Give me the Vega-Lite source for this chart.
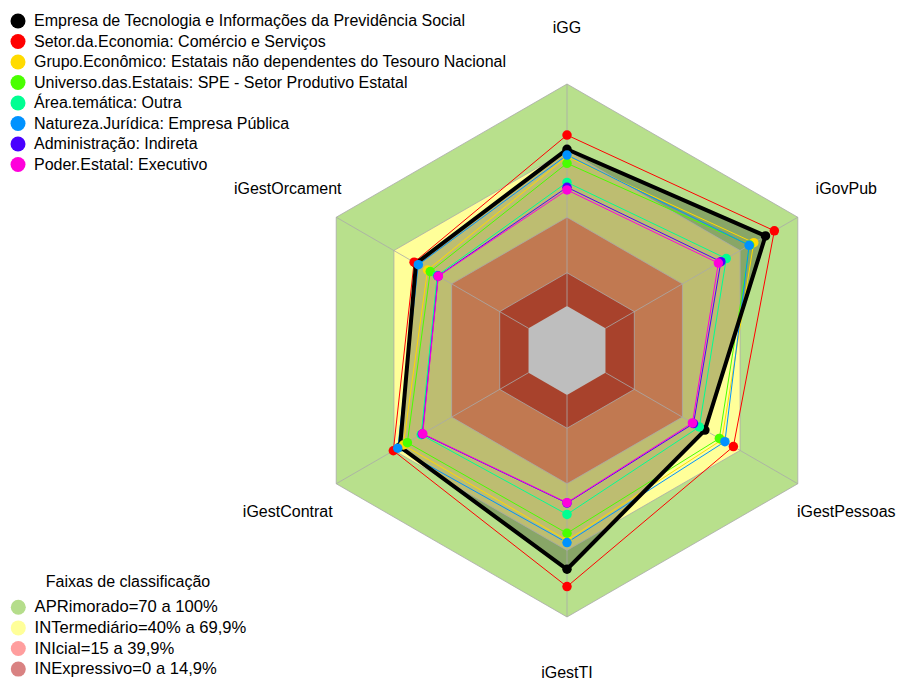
{
  "$schema": "https://vega.github.io/schema/vega-lite/v6.json",
  "width": 900,
  "height": 680,
  "autosize": {"type": "none"},
  "padding": 0,
  "background": "white",
  "config": {"view": {"stroke": null}, "font": "Liberation Sans"},
  "datasets": {
    "series": [
      {"serie": "Empresa de Tecnologia e Informações da Previdência Social", "eixo": "iGG", "valor": 70.6},
      {"serie": "Empresa de Tecnologia e Informações da Previdência Social", "eixo": "iGovPub", "valor": 83.2},
      {"serie": "Empresa de Tecnologia e Informações da Previdência Social", "eixo": "iGestPessoas", "valor": 51.7},
      {"serie": "Empresa de Tecnologia e Informações da Previdência Social", "eixo": "iGestTI", "valor": 78.5},
      {"serie": "Empresa de Tecnologia e Informações da Previdência Social", "eixo": "iGestContrat", "valor": 66.8},
      {"serie": "Empresa de Tecnologia e Informações da Previdência Social", "eixo": "iGestOrcament", "valor": 58.5},
      {"serie": "Setor.da.Economia: Comércio e Serviços", "eixo": "iGG", "valor": 77.0},
      {"serie": "Setor.da.Economia: Comércio e Serviços", "eixo": "iGovPub", "valor": 87.8},
      {"serie": "Setor.da.Economia: Comércio e Serviços", "eixo": "iGestPessoas", "valor": 66.5},
      {"serie": "Setor.da.Economia: Comércio e Serviços", "eixo": "iGestTI", "valor": 86.3},
      {"serie": "Setor.da.Economia: Comércio e Serviços", "eixo": "iGestContrat", "valor": 70.3},
      {"serie": "Setor.da.Economia: Comércio e Serviços", "eixo": "iGestOrcament", "valor": 59.5},
      {"serie": "Grupo.Econômico: Estatais não dependentes do Tesouro Nacional", "eixo": "iGG", "valor": 67.3},
      {"serie": "Grupo.Econômico: Estatais não dependentes do Tesouro Nacional", "eixo": "iGovPub", "valor": 77.1},
      {"serie": "Grupo.Econômico: Estatais não dependentes do Tesouro Nacional", "eixo": "iGestPessoas", "valor": 60.5},
      {"serie": "Grupo.Econômico: Estatais não dependentes do Tesouro Nacional", "eixo": "iGestTI", "valor": 65.5},
      {"serie": "Grupo.Econômico: Estatais não dependentes do Tesouro Nacional", "eixo": "iGestContrat", "valor": 65.1},
      {"serie": "Grupo.Econômico: Estatais não dependentes do Tesouro Nacional", "eixo": "iGestOrcament", "valor": 52.5},
      {"serie": "Universo.das.Estatais: SPE - Setor Produtivo Estatal", "eixo": "iGG", "valor": 64.3},
      {"serie": "Universo.das.Estatais: SPE - Setor Produtivo Estatal", "eixo": "iGovPub", "valor": 75.0},
      {"serie": "Universo.das.Estatais: SPE - Setor Produtivo Estatal", "eixo": "iGestPessoas", "valor": 59.2},
      {"serie": "Universo.das.Estatais: SPE - Setor Produtivo Estatal", "eixo": "iGestTI", "valor": 62.3},
      {"serie": "Universo.das.Estatais: SPE - Setor Produtivo Estatal", "eixo": "iGestContrat", "valor": 63.0},
      {"serie": "Universo.das.Estatais: SPE - Setor Produtivo Estatal", "eixo": "iGestOrcament", "valor": 51.1},
      {"serie": "Área.temática: Outra", "eixo": "iGG", "valor": 55.7},
      {"serie": "Área.temática: Outra", "eixo": "iGovPub", "valor": 62.8},
      {"serie": "Área.temática: Outra", "eixo": "iGestPessoas", "valor": 48.8},
      {"serie": "Área.temática: Outra", "eixo": "iGestTI", "valor": 53.8},
      {"serie": "Área.temática: Outra", "eixo": "iGestContrat", "valor": 55.8},
      {"serie": "Área.temática: Outra", "eixo": "iGestOrcament", "valor": 47.5},
      {"serie": "Natureza.Jurídica: Empresa Pública", "eixo": "iGG", "valor": 68.0},
      {"serie": "Natureza.Jurídica: Empresa Pública", "eixo": "iGovPub", "valor": 74.7},
      {"serie": "Natureza.Jurídica: Empresa Pública", "eixo": "iGestPessoas", "valor": 62.1},
      {"serie": "Natureza.Jurídica: Empresa Pública", "eixo": "iGestTI", "valor": 66.5},
      {"serie": "Natureza.Jurídica: Empresa Pública", "eixo": "iGestContrat", "valor": 68.0},
      {"serie": "Natureza.Jurídica: Empresa Pública", "eixo": "iGestOrcament", "valor": 57.3},
      {"serie": "Administração: Indireta", "eixo": "iGG", "valor": 53.5},
      {"serie": "Administração: Indireta", "eixo": "iGovPub", "valor": 60.0},
      {"serie": "Administração: Indireta", "eixo": "iGestPessoas", "valor": 45.8},
      {"serie": "Administração: Indireta", "eixo": "iGestTI", "valor": 48.7},
      {"serie": "Administração: Indireta", "eixo": "iGestContrat", "valor": 55.2},
      {"serie": "Administração: Indireta", "eixo": "iGestOrcament", "valor": 47.0},
      {"serie": "Poder.Estatal: Executivo", "eixo": "iGG", "valor": 52.3},
      {"serie": "Poder.Estatal: Executivo", "eixo": "iGovPub", "valor": 58.7},
      {"serie": "Poder.Estatal: Executivo", "eixo": "iGestPessoas", "valor": 45.2},
      {"serie": "Poder.Estatal: Executivo", "eixo": "iGestTI", "valor": 48.5},
      {"serie": "Poder.Estatal: Executivo", "eixo": "iGestContrat", "valor": 55.0},
      {"serie": "Poder.Estatal: Executivo", "eixo": "iGestOrcament", "valor": 46.9}
    ],
    "grade": [
      {"nivel": 100, "eixo": "iGG"}, {"nivel": 100, "eixo": "iGovPub"}, {"nivel": 100, "eixo": "iGestPessoas"}, {"nivel": 100, "eixo": "iGestTI"}, {"nivel": 100, "eixo": "iGestContrat"}, {"nivel": 100, "eixo": "iGestOrcament"},
      {"nivel": 70, "eixo": "iGG"}, {"nivel": 70, "eixo": "iGovPub"}, {"nivel": 70, "eixo": "iGestPessoas"}, {"nivel": 70, "eixo": "iGestTI"}, {"nivel": 70, "eixo": "iGestContrat"}, {"nivel": 70, "eixo": "iGestOrcament"},
      {"nivel": 40, "eixo": "iGG"}, {"nivel": 40, "eixo": "iGovPub"}, {"nivel": 40, "eixo": "iGestPessoas"}, {"nivel": 40, "eixo": "iGestTI"}, {"nivel": 40, "eixo": "iGestContrat"}, {"nivel": 40, "eixo": "iGestOrcament"},
      {"nivel": 15, "eixo": "iGG"}, {"nivel": 15, "eixo": "iGovPub"}, {"nivel": 15, "eixo": "iGestPessoas"}, {"nivel": 15, "eixo": "iGestTI"}, {"nivel": 15, "eixo": "iGestContrat"}, {"nivel": 15, "eixo": "iGestOrcament"},
      {"nivel": 0, "eixo": "iGG"}, {"nivel": 0, "eixo": "iGovPub"}, {"nivel": 0, "eixo": "iGestPessoas"}, {"nivel": 0, "eixo": "iGestTI"}, {"nivel": 0, "eixo": "iGestContrat"}, {"nivel": 0, "eixo": "iGestOrcament"}
    ],
    "eixos": [
      {"eixo": "iGG"}, {"eixo": "iGovPub"}, {"eixo": "iGestPessoas"}, {"eixo": "iGestTI"}, {"eixo": "iGestContrat"}, {"eixo": "iGestOrcament"}
    ],
    "faixas": [
      {"faixa": "APRimorado=70 a 100%"},
      {"faixa": "INTermediário=40% a 69,9%"},
      {"faixa": "INIcial=15 a 39,9%"},
      {"faixa": "INExpressivo=0 a 14,9%"}
    ]
  },
  "encoding": {
    "x": {"field": "px", "type": "quantitative", "scale": {"domain": [-255.31, 149.94], "nice": false, "zero": false}, "axis": null},
    "y": {"field": "py", "type": "quantitative", "scale": {"domain": [-148.37, 157.82], "nice": false, "zero": false}, "axis": null}
  },
  "layer": [
    {
      "data": {"name": "faixas"},
      "mark": {"type": "point", "filled": true, "size": 1},
      "encoding": {
        "x": {"datum": 0, "type": "quantitative"},
        "y": {"datum": 0, "type": "quantitative"},
        "fill": {
          "field": "faixa", "type": "nominal",
          "scale": {"domain": ["APRimorado=70 a 100%", "INTermediário=40% a 69,9%", "INIcial=15 a 39,9%", "INExpressivo=0 a 14,9%"], "range": ["#b5dd8b", "#ffff99", "#ff9e9e", "#d98282"]},
          "legend": {"orient": "none", "legendX": 10, "legendY": 574, "title": "Faixas de classificação", "titleFontSize": 16, "titleFontWeight": "normal", "titleColor": "#000000", "titleAnchor": "middle", "titlePadding": 9, "titleLimit": 600, "symbolType": "circle", "symbolSize": 225, "symbolStrokeWidth": 0, "symbolOpacity": 1, "labelFontSize": 16.6, "labelColor": "#000000", "labelOffset": 8, "labelLimit": 600, "rowPadding": 3.6, "padding": 0}
        }
      }
    },
    {
      "data": {"name": "grade"},
      "transform": [
        {"filter": "datum.nivel === 100"},
        {"calculate": "indexof(['iGG','iGovPub','iGestPessoas','iGestTI','iGestContrat','iGestOrcament'], datum.eixo)", "as": "ordem"},
        {"calculate": "(datum.nivel + 20) * sin(datum.ordem * PI / 3)", "as": "px"},
        {"calculate": "(datum.nivel + 20) * cos(datum.ordem * PI / 3)", "as": "py"}
      ],
      "mark": {"type": "line", "interpolate": "linear-closed", "fill": "#b8e08c", "strokeWidth": 0},
      "encoding": {"order": {"field": "ordem", "type": "quantitative"}}
    },
    {
      "data": {"name": "grade"},
      "transform": [
        {"filter": "datum.nivel === 70"},
        {"calculate": "indexof(['iGG','iGovPub','iGestPessoas','iGestTI','iGestContrat','iGestOrcament'], datum.eixo)", "as": "ordem"},
        {"calculate": "(datum.nivel + 20) * sin(datum.ordem * PI / 3)", "as": "px"},
        {"calculate": "(datum.nivel + 20) * cos(datum.ordem * PI / 3)", "as": "py"}
      ],
      "mark": {"type": "line", "interpolate": "linear-closed", "fill": "#ffff99", "strokeWidth": 0},
      "encoding": {"order": {"field": "ordem", "type": "quantitative"}}
    },
    {
      "data": {"name": "series"},
      "transform": [
        {"filter": {"field": "serie", "equal": "Empresa de Tecnologia e Informações da Previdência Social"}},
        {"calculate": "indexof(['iGG','iGovPub','iGestPessoas','iGestTI','iGestContrat','iGestOrcament'], datum.eixo)", "as": "ordem"},
        {"calculate": "(datum.valor + 20) * sin(datum.ordem * PI / 3)", "as": "px"},
        {"calculate": "(datum.valor + 20) * cos(datum.ordem * PI / 3)", "as": "py"}
      ],
      "mark": {"type": "line", "interpolate": "linear-closed", "fill": "#000000", "fillOpacity": 0.26, "strokeWidth": 0},
      "encoding": {"order": {"field": "ordem", "type": "quantitative"}}
    },
    {
      "data": {"name": "grade"},
      "transform": [
        {"filter": "datum.nivel === 40"},
        {"calculate": "indexof(['iGG','iGovPub','iGestPessoas','iGestTI','iGestContrat','iGestOrcament'], datum.eixo)", "as": "ordem"},
        {"calculate": "(datum.nivel + 20) * sin(datum.ordem * PI / 3)", "as": "px"},
        {"calculate": "(datum.nivel + 20) * cos(datum.ordem * PI / 3)", "as": "py"}
      ],
      "mark": {"type": "line", "interpolate": "linear-closed", "fill": "#c17951", "strokeWidth": 0},
      "encoding": {"order": {"field": "ordem", "type": "quantitative"}}
    },
    {
      "data": {"name": "grade"},
      "transform": [
        {"filter": "datum.nivel === 15"},
        {"calculate": "indexof(['iGG','iGovPub','iGestPessoas','iGestTI','iGestContrat','iGestOrcament'], datum.eixo)", "as": "ordem"},
        {"calculate": "(datum.nivel + 20) * sin(datum.ordem * PI / 3)", "as": "px"},
        {"calculate": "(datum.nivel + 20) * cos(datum.ordem * PI / 3)", "as": "py"}
      ],
      "mark": {"type": "line", "interpolate": "linear-closed", "fill": "#a8422c", "strokeWidth": 0},
      "encoding": {"order": {"field": "ordem", "type": "quantitative"}}
    },
    {
      "data": {"name": "grade"},
      "transform": [
        {"filter": "datum.nivel === 0"},
        {"calculate": "indexof(['iGG','iGovPub','iGestPessoas','iGestTI','iGestContrat','iGestOrcament'], datum.eixo)", "as": "ordem"},
        {"calculate": "(datum.nivel + 20) * sin(datum.ordem * PI / 3)", "as": "px"},
        {"calculate": "(datum.nivel + 20) * cos(datum.ordem * PI / 3)", "as": "py"}
      ],
      "mark": {"type": "line", "interpolate": "linear-closed", "fill": "#bebebe", "strokeWidth": 0},
      "encoding": {"order": {"field": "ordem", "type": "quantitative"}}
    },
    {
      "data": {"name": "grade"},
      "transform": [
        {"filter": "datum.nivel > 0"},
        {"calculate": "indexof(['iGG','iGovPub','iGestPessoas','iGestTI','iGestContrat','iGestOrcament'], datum.eixo)", "as": "ordem"},
        {"calculate": "(datum.nivel + 20) * sin(datum.ordem * PI / 3)", "as": "px"},
        {"calculate": "(datum.nivel + 20) * cos(datum.ordem * PI / 3)", "as": "py"}
      ],
      "mark": {"type": "line", "interpolate": "linear-closed", "stroke": "#a9a9a9", "strokeWidth": 0.8},
      "encoding": {"order": {"field": "ordem", "type": "quantitative"}, "detail": {"field": "nivel", "type": "nominal"}}
    },
    {
      "data": {"name": "eixos"},
      "transform": [
        {"calculate": "indexof(['iGG','iGovPub','iGestPessoas','iGestTI','iGestContrat','iGestOrcament'], datum.eixo)", "as": "ordem"},
        {"calculate": "20 * sin(datum.ordem * PI / 3)", "as": "px"},
        {"calculate": "20 * cos(datum.ordem * PI / 3)", "as": "py"},
        {"calculate": "120 * sin(datum.ordem * PI / 3)", "as": "px2"},
        {"calculate": "120 * cos(datum.ordem * PI / 3)", "as": "py2"}
      ],
      "mark": {"type": "rule", "stroke": "#a9a9a9", "strokeWidth": 0.8},
      "encoding": {"x2": {"field": "px2"}, "y2": {"field": "py2"}}
    },
    {
      "data": {"name": "series"},
      "transform": [
        {"filter": {"not": {"field": "serie", "equal": "Empresa de Tecnologia e Informações da Previdência Social"}}},
        {"calculate": "indexof(['iGG','iGovPub','iGestPessoas','iGestTI','iGestContrat','iGestOrcament'], datum.eixo)", "as": "ordem"},
        {"calculate": "(datum.valor + 20) * sin(datum.ordem * PI / 3)", "as": "px"},
        {"calculate": "(datum.valor + 20) * cos(datum.ordem * PI / 3)", "as": "py"}
      ],
      "mark": {"type": "line", "interpolate": "linear-closed", "strokeWidth": 1},
      "encoding": {
        "order": {"field": "ordem", "type": "quantitative"},
        "color": {"field": "serie", "type": "nominal",
          "scale": {"domain": ["Empresa de Tecnologia e Informações da Previdência Social", "Setor.da.Economia: Comércio e Serviços", "Grupo.Econômico: Estatais não dependentes do Tesouro Nacional", "Universo.das.Estatais: SPE - Setor Produtivo Estatal", "Área.temática: Outra", "Natureza.Jurídica: Empresa Pública", "Administração: Indireta", "Poder.Estatal: Executivo"],
                    "range": ["#000000", "#FF0000", "#FFDB00", "#49FF00", "#00FF92", "#0092FF", "#4900FF", "#FF00DB"]},
          "legend": {"orient": "none", "legendX": 10, "legendY": 13, "title": null, "symbolType": "circle", "symbolSize": 225, "symbolStrokeWidth": 0, "symbolOpacity": 1, "labelFontSize": 16, "labelColor": "#000000", "labelOffset": 8, "rowPadding": 4.5, "padding": 0, "labelLimit": 600}
        }
      }
    },
    {
      "data": {"name": "series"},
      "transform": [
        {"filter": {"field": "serie", "equal": "Empresa de Tecnologia e Informações da Previdência Social"}},
        {"calculate": "indexof(['iGG','iGovPub','iGestPessoas','iGestTI','iGestContrat','iGestOrcament'], datum.eixo)", "as": "ordem"},
        {"calculate": "(datum.valor + 20) * sin(datum.ordem * PI / 3)", "as": "px"},
        {"calculate": "(datum.valor + 20) * cos(datum.ordem * PI / 3)", "as": "py"}
      ],
      "mark": {"type": "line", "interpolate": "linear-closed", "stroke": "#000000", "strokeWidth": 4},
      "encoding": {"order": {"field": "ordem", "type": "quantitative"}}
    },
    {
      "data": {"name": "series"},
      "transform": [
        {"calculate": "indexof(['iGG','iGovPub','iGestPessoas','iGestTI','iGestContrat','iGestOrcament'], datum.eixo)", "as": "ordem"},
        {"calculate": "(datum.valor + 20) * sin(datum.ordem * PI / 3)", "as": "px"},
        {"calculate": "(datum.valor + 20) * cos(datum.ordem * PI / 3)", "as": "py"}
      ],
      "mark": {"type": "point", "filled": true, "size": 90, "opacity": 1, "shape": "circle"},
      "encoding": {
        "color": {"field": "serie", "type": "nominal",
          "scale": {"domain": ["Empresa de Tecnologia e Informações da Previdência Social", "Setor.da.Economia: Comércio e Serviços", "Grupo.Econômico: Estatais não dependentes do Tesouro Nacional", "Universo.das.Estatais: SPE - Setor Produtivo Estatal", "Área.temática: Outra", "Natureza.Jurídica: Empresa Pública", "Administração: Indireta", "Poder.Estatal: Executivo"],
                    "range": ["#000000", "#FF0000", "#FFDB00", "#49FF00", "#00FF92", "#0092FF", "#4900FF", "#FF00DB"]},
          "legend": {"orient": "none", "legendX": 10, "legendY": 13, "title": null, "symbolType": "circle", "symbolSize": 225, "symbolStrokeWidth": 0, "symbolOpacity": 1, "labelFontSize": 16, "labelColor": "#000000", "labelOffset": 8, "rowPadding": 4.5, "padding": 0, "labelLimit": 600}
        }
      }
    },
    {
      "data": {"name": "eixos"},
      "transform": [
        {"calculate": "indexof(['iGG','iGovPub','iGestPessoas','iGestTI','iGestContrat','iGestOrcament'], datum.eixo)", "as": "ordem"},
        {"calculate": "145.2 * sin(datum.ordem * PI / 3)", "as": "px"},
        {"calculate": "145.2 * cos(datum.ordem * PI / 3)", "as": "py"}
      ],
      "mark": {"type": "text", "fontSize": 16, "color": "#000000", "align": "center", "baseline": "middle"},
      "encoding": {"text": {"field": "eixo"}}
    }
  ]
}
